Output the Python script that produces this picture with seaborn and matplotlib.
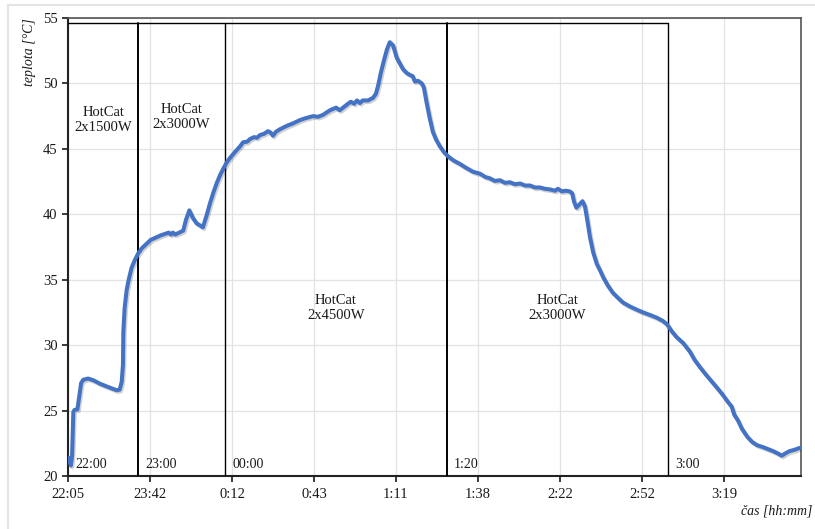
import numpy as np
import pandas as pd
import seaborn as sns
import matplotlib.pyplot as plt
import matplotlib.patheffects as pe
from matplotlib.patches import Rectangle

# Measured temperature (sample index on a category-like axis, 20 samples per tick)
idx = [0.1, 0.7, 1.0, 1.3, 1.6, 2.3, 2.7, 3.2, 3.7, 4.9, 6.3, 7.8, 9.8, 11.9, 12.6,
       13.1, 13.4, 13.5, 13.8, 14.3, 14.8, 15.5, 16.3, 17.1, 18.0, 19.2, 20.2, 21.6,
       22.7, 24.1, 24.6, 25.1, 25.6, 26.1, 26.8, 28.1, 28.8, 29.6, 30.5, 31.4, 32.2,
       32.9, 33.8, 34.6, 35.5, 36.3, 37.1, 37.9, 38.8, 39.5, 40.7, 42.0, 42.7, 43.7,
       44.4, 45.4, 46.1, 46.8, 47.8, 48.8, 49.4, 50.0, 50.7, 51.7, 53.3, 54.9, 56.6,
       58.0, 59.8, 61.0, 62.2, 63.9, 65.4, 66.3, 67.1, 68.3, 69.0, 69.8, 70.5, 71.2,
       71.9, 73.2, 74.4, 75.1, 75.7, 76.3, 77.1, 77.8, 78.5, 79.3, 80.2, 81.0, 81.7,
       82.6, 83.4, 84.1, 84.6, 85.4, 86.3, 86.8, 87.5, 88.2, 89.0, 89.8, 90.7, 91.7,
       92.8, 94.1, 95.6, 97.1, 98.8, 100.5, 101.8, 102.9, 104.1, 105.4, 106.6, 107.8,
       109.0, 110.3, 111.5, 112.7, 113.9, 115.1, 116.3, 117.6, 118.8, 119.5, 120.5,
       121.4, 122.4, 123.0, 123.4, 124.0, 124.6, 125.5, 126.1, 126.7, 127.3, 128.1,
       129.0, 129.8, 130.7, 131.7, 132.9, 134.2, 135.4, 137.1, 138.8, 140.3, 142.0,
       143.6, 145.1, 146.1, 147.3, 148.5, 150.1, 151.7, 152.9, 154.2, 155.6, 157.1,
       158.3, 159.6, 161.0, 161.9, 162.5, 163.5, 164.4, 165.7, 166.9, 168.1, 169.6,
       170.8, 172.0, 173.3, 174.1, 175.1, 176.0, 177.2, 178.5]
teplota = [21.4, 20.8, 21.6, 24.9, 25.05, 25.1, 26.0, 27.1, 27.35, 27.45, 27.3, 27.05,
           26.8, 26.55, 26.6, 27.2, 28.5, 31.0, 32.8, 34.2, 35.0, 35.9, 36.5, 37.0,
           37.4, 37.75, 38.05, 38.25, 38.4, 38.55, 38.6, 38.45, 38.6, 38.45, 38.55,
           38.75, 39.6, 40.3, 39.7, 39.3, 39.15, 39.0, 39.9, 40.8, 41.7, 42.4, 43.0,
           43.5, 44.0, 44.3, 44.75, 45.2, 45.5, 45.55, 45.75, 45.9, 45.85, 46.05,
           46.15, 46.35, 46.25, 46.0, 46.3, 46.5, 46.75, 46.95, 47.2, 47.35, 47.5,
           47.45, 47.6, 47.95, 48.15, 47.95, 48.15, 48.45, 48.6, 48.45, 48.7, 48.5,
           48.7, 48.7, 48.9, 49.2, 49.9, 50.8, 51.8, 52.6, 53.15, 52.9, 51.95, 51.5,
           51.1, 50.8, 50.65, 50.55, 50.15, 50.2, 50.0, 49.7, 48.5, 47.4, 46.3, 45.7,
           45.2, 44.75, 44.4, 44.1, 43.85, 43.55, 43.25, 43.1, 42.85, 42.75, 42.55,
           42.6, 42.4, 42.45, 42.3, 42.35, 42.2, 42.2, 42.05, 42.05, 41.95, 41.9,
           41.8, 41.95, 41.75, 41.8, 41.75, 41.6, 41.0, 40.5, 40.7, 41.0, 40.6, 39.5,
           38.3, 37.1, 36.2, 35.7, 35.1, 34.55, 34.0, 33.6, 33.25, 32.95, 32.7, 32.5,
           32.3, 32.1, 31.85, 31.6, 31.05, 30.6, 30.15, 29.5, 28.85, 28.3, 27.75,
           27.2, 26.75, 26.25, 25.65, 25.3, 24.7, 24.2, 23.6, 23.0, 22.6, 22.35,
           22.2, 22.05, 21.9, 21.7, 21.55, 21.75, 21.9, 22.0, 22.15]

tick_pos = [0, 20, 40, 60, 80, 100, 120, 140, 160]
tick_labels = ["22:05", "23:42", "0:12", "0:43", "1:11", "1:38", "2:22", "2:52", "3:19"]

# heater phases: boundaries, start-time labels, power labels
phase_edges = [0, 17.1, 38.3, 92.4, 146.3]
phase_times = ["22:00", "23:00", "00:00", "1:20", "3:00"]
phase_names = ["HotCat\n2x1500W", "HotCat\n2x3000W", "HotCat\n2x4500W", "HotCat\n2x3000W"]
phase_name_y = [47.2, 47.4, 32.85, 32.85]

df = pd.DataFrame({"idx": idx, "teplota": teplota})

sns.set_style("whitegrid")
plt.rcParams['font.family'] = ['Liberation Serif', 'DejaVu Serif']

fig = plt.figure(figsize=(8.15, 5.29), dpi=100)
ax = fig.add_axes([68 / 815, 53 / 529, 733 / 815, 458 / 529])

# light frame around the whole chart
fig.patches.append(Rectangle((8 / 815, -0.02), 1.05, 1 - 5 / 529 + 0.02, transform=fig.transFigure,
                             fill=False, edgecolor="#e4e4e4", lw=1.5))

sns.lineplot(data=df, x="idx", y="teplota", ax=ax, color="#4472c4", lw=2.9, zorder=4)
ax.lines[-1].set_path_effects([pe.SimpleLineShadow(offset=(1, -1.2), alpha=0.18), pe.Normal()])

box_top = 54.6
for i, x0 in enumerate(phase_edges):
    if i > 0:
        ax.plot([x0, x0], [20, box_top], color="black", lw=1.4 if i in (1, 3) else 1.0, zorder=3)
    ax.text(x0 + 1.8, 20.9, phase_times[i], fontsize=10, ha="left", va="center", color="#1a1a1a")
ax.plot([0, phase_edges[-1]], [box_top, box_top], color="black", lw=1.0, zorder=3)

for i, name in enumerate(phase_names):
    xc = (phase_edges[i] + phase_edges[i + 1]) / 2
    ax.text(xc, phase_name_y[i], name, fontsize=10.5, ha="center", va="center",
            linespacing=1.2, color="#1a1a1a")

ax.set_xlim(0, 178.8)
ax.set_ylim(20, 55)
ax.set_yticks(range(20, 56, 5))
ax.set_xticks(tick_pos)
ax.set_xticklabels(tick_labels)
ax.tick_params(axis="both", labelsize=10.5, colors="#1a1a1a", length=4, width=1.2,
               direction="out", bottom=True, left=True)
ax.tick_params(axis="x", pad=5)
ax.grid(True, color="#e3e3e3", lw=0.9)
ax.set_xlabel("")
ax.set_ylabel("")
for side in ["left", "bottom"]:
    ax.spines[side].set_color("#222222")
    ax.spines[side].set_linewidth(1.5)
for side in ["top", "right"]:
    ax.spines[side].set_color("#555555")
    ax.spines[side].set_linewidth(1.2)

fig.text(30 / 815, 1 - 52 / 529, "teplota [°C]", rotation=90, ha="center", va="center",
         fontsize=10, style="italic", color="#1a1a1a")
fig.text(812 / 815, 1 - 511 / 529, "čas [hh:mm]", ha="right", va="center",
         fontsize=10, style="italic", color="#1a1a1a")

fig.savefig("out.png", dpi=100)
